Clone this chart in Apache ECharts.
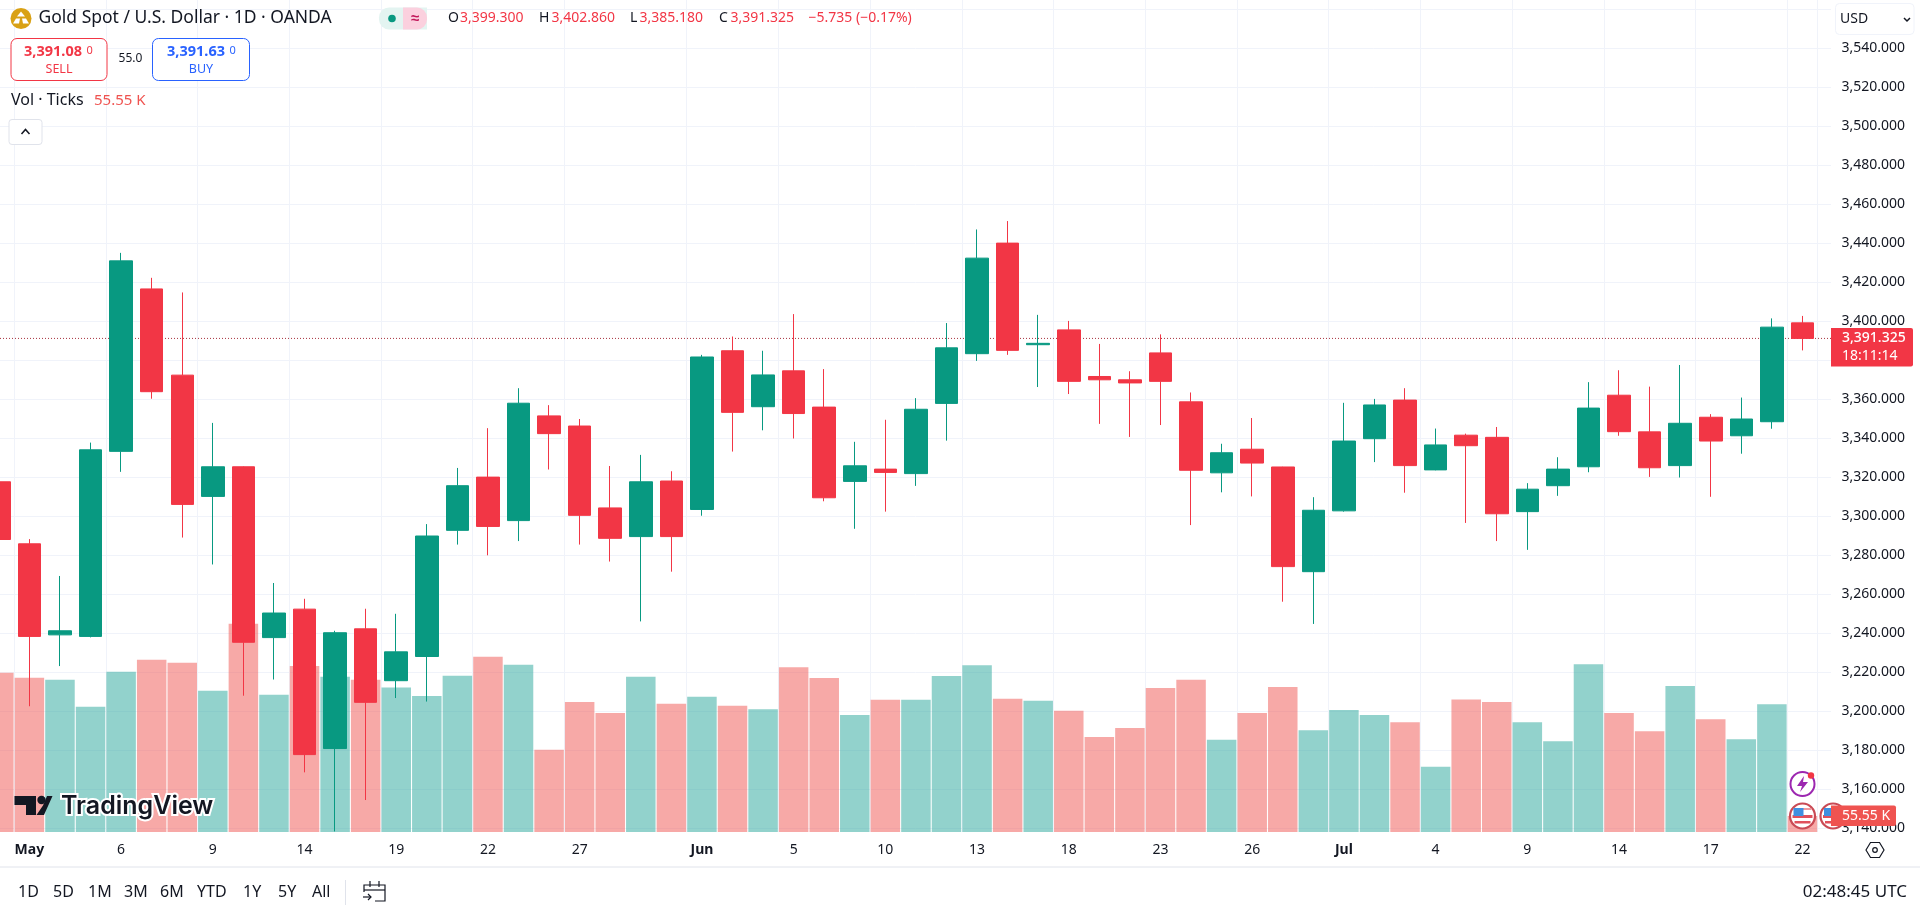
<!DOCTYPE html>
<html><head><meta charset="utf-8">
<style>html,body{margin:0;padding:0;background:#fff;width:100%;height:100%;overflow:hidden}#c{position:absolute;left:-17px;top:0;width:1937px;height:912px}</style>
<script src="https://cdn.jsdelivr.net/npm/echarts@6/dist/echarts.min.js"></script>
</head><body><div id="c"></div>
<script>
const categories=['04-30','05-01','05-02','05-05','05-06','05-07','05-08','05-09','05-12','05-13','05-14','05-15','05-16','05-19','05-20','05-21','05-22','05-23','05-26','05-27','05-28','05-29','05-30','06-02','06-03','06-04','06-05','06-06','06-09','06-10','06-11','06-12','06-13','06-16','06-17','06-18','06-19','06-20','06-23','06-24','06-25','06-26','06-27','06-30','07-01','07-02','07-03','07-04','07-07','07-08','07-09','07-10','07-11','07-14','07-15','07-16','07-17','07-18','07-21','07-22'];
const tickLabels=['','May','','','6','','','9','','','14','','','19','','','22','','','27','','','','Jun','','','5','','','10','','','13','','','18','','','23','','','26','','','Jul','','','4','','','9','','','14','','','17','','','22'];
const opens=[3317.8,3286,3239.3,3238.5,3333.4,3416.7,3372.5,3310.3,3325.5,3237.9,3252.5,3181,3242.4,3215.8,3228.2,3292.9,3320.2,3297.9,3351.6,3346.4,3304.4,3289.7,3318.2,3303.6,3385,3356.3,3374.7,3356.1,3318,3324.3,3322,3358,3383.5,3440.2,3388.1,3395.7,3371.8,3370.1,3383.9,3358.8,3322.4,3334.5,3325.4,3271.7,3302.9,3339.9,3359.7,3323.9,3341.7,3340.6,3302.5,3315.8,3325.5,3362.2,3343.4,3326.1,3350.9,3341.4,3348.6,3399.3];
const closes=[3288.2,3238.5,3241.4,3334.2,3431.1,3364,3306.2,3325.5,3235.5,3250.5,3177.9,3240.4,3204.7,3230.6,3290,3315.8,3294.9,3358.1,3342.5,3300.6,3288.8,3317.8,3289.7,3381.8,3353.4,3372.6,3352.8,3309.6,3326,3322.6,3355,3386.5,3432.5,3385.2,3388.8,3369.3,3370.1,3368.5,3369.3,3323.7,3332.7,3327.4,3274.3,3303.2,3338.7,3357.2,3326.1,3336.7,3336.3,3301.4,3314,3324.3,3355.6,3343.5,3325,3347.8,3338.7,3350,3397.1,3391.325];
const highs=[3320,3288.4,3269.5,3337.9,3435.2,3422.4,3414.9,3348,3325.7,3265.9,3257.8,3241.4,3252.7,3250.1,3296.1,3324.9,3345.3,3365.8,3357.1,3350,3325.9,3331.6,3323.2,3382.9,3392.3,3385,3403.8,3375.6,3338.3,3349.6,3360.7,3399.2,3447.2,3451.5,3403.4,3400.3,3388.5,3374.5,3393.4,3363.6,3337.3,3350.5,3325.5,3309.9,3358.3,3360.3,3365.8,3345.1,3342.5,3345.9,3317.1,3330.4,3368.9,3375,3366.6,3377.7,3352.5,3361,3401.6,3402.86];
const lows=[3285,3202.7,3223.3,3238,3322.9,3360.4,3289.2,3275.4,3208.1,3216.4,3168.8,3138.5,3154.6,3206.9,3205.1,3285.6,3280.1,3287.4,3324.1,3285.6,3276.9,3246.2,3271.7,3300.4,3333.3,3344.2,3340,3307.8,3293.7,3302.5,3315.7,3338.9,3379.8,3382.9,3366.4,3362.8,3347.5,3340.8,3346.9,3295.6,3312.4,3310.3,3256.3,3244.9,3302.5,3327.9,3312.2,3323.7,3296.7,3287.4,3282.9,3310.6,3322.7,3341.4,3320.3,3320,3310.1,3332.2,3345,3385.18];
const volumes=[553,535,528,435,556,598,587,490,723,476,576,539,528,501,472,542,608,580,285,451,413,539,445,469,438,426,572,534,406,459,459,541,579,462,455,421,330,361,500,528,320,413,503,353,423,406,381,226,460,451,381,315,582,413,350,507,391,322,443,55.55];
const lastPrice=3391.325;
const rangeLabels=['1D','5D','1M','3M','6M','YTD','1Y','5Y','All'];
const rangeX=[18,53,88,124,160,197,243,278,312];

const F='"Noto Sans",sans-serif', RED='#F23645', GREEN='#089981', INK='#131722';
const SHIFT=17; // the canvas starts left of the window so the first, partly hidden candle is cut by the window edge
const T=(x,y,text,o={})=>({type:'text',z:50,style:Object.assign({x,y,text,fill:INK,font:(o.w||'normal')+' '+(o.s||14)+'px '+F,textAlign:o.a||'left',textVerticalAlign:'middle',textBaseline:'middle'},o.fill?{fill:o.fill}:{},o.stroke?{stroke:o.stroke,lineWidth:o.lw||3}:{})});
const R=(x,y,w,h,o={})=>({type:'rect',z:o.z||40,shape:{x,y,width:w,height:h,r:o.r||0},style:{fill:o.fill||'none',stroke:o.stroke||null,lineWidth:o.lw||1}});
const C=(cx,cy,r,o={})=>({type:'circle',z:o.z||40,shape:{cx,cy,r},style:{fill:o.fill||'none',stroke:o.stroke||null,lineWidth:o.lw||1}});
const PL=(points,o={})=>({type:'polyline',z:o.z||41,shape:{points},style:{fill:'none',stroke:o.stroke||INK,lineWidth:o.lw||1.2}});
const PG=(points,o={})=>({type:'polygon',z:o.z||41,shape:{points},style:{fill:o.fill||INK,stroke:o.stroke||null,lineWidth:o.lw||1}});

const flag=(cx,cy)=>[
  C(cx,cy,12.5,{fill:'#fff',stroke:'#C94A55',lw:2.2,z:30}),
  R(cx-9,cy-8,18,2,{fill:'#EF9AA0',z:31}),
  R(cx-10,cy-1,20,3,{fill:'#E0505C',z:31}),
  R(cx-8,cy+5,16,2.5,{fill:'#E0505C',z:31}),
  R(cx-9,cy-8,10,8,{fill:'#3F8FE0',z:32})
];

const graphics=[
  // header
  C(21,18.5,10.5,{fill:'#D9A114'}),
  PG([[21,11.5],[25,16.5],[17,16.5]],{fill:'#fff'}),PG([[16,18.5],[20,18.5],[19,23.5],[13,23.5]],{fill:'#fff'}),PG([[22,18.5],[26,18.5],[29,23.5],[23,23.5]],{fill:'#fff'}),
  T(38.5,18.5,'Gold Spot / U.S. Dollar · 1D · OANDA',{s:17.5}),
  R(379,7.5,48,22,{fill:'#E3F4F1',r:[10,0,0,10]}),R(403,7.5,24,22,{fill:'#FBD0DE',r:[0,10,10,0]}),
  C(392,18.5,3.8,{fill:GREEN}),T(415,18.5,'≈',{s:15,a:'center',fill:'#C2185B',w:'bold'}),
  T(448,18.5,'O',{}),T(460,18.5,'3,399.300',{fill:RED}),
  T(539,18.5,'H',{}),T(551.5,18.5,'3,402.860',{fill:RED}),
  T(630,18.5,'L',{}),T(639.5,18.5,'3,385.180',{fill:RED}),
  T(719,18.5,'C',{}),T(730.5,18.5,'3,391.325',{fill:RED}),
  T(808.5,18.5,'−5.735 (−0.17%)',{fill:RED}),
  // sell / buy
  R(11,38.5,96,42,{stroke:RED,r:6,fill:'#fff'}),
  T(24,51.5,'3,391.08',{fill:RED,w:'bold',s:14.5}),T(86.5,50.5,'0',{fill:RED,s:11}),T(59,69,'SELL',{fill:RED,s:12.5,a:'center'}),
  T(130.5,59,'55.0',{s:12,a:'center'}),
  R(152.5,38.5,97,42,{stroke:'#2962FF',r:6,fill:'#fff'}),
  T(167,51.5,'3,391.63',{fill:'#2962FF',w:'bold',s:14.5}),T(229.5,50.5,'0',{fill:'#2962FF',s:11}),T(201,69,'BUY',{fill:'#2962FF',s:12.5,a:'center'}),
  T(11,100.5,'Vol · Ticks',{s:16}),T(94,100.5,'55.55 K',{fill:'#EF5350',s:15}),
  R(9,119.5,33,25,{stroke:'#E0E3EB',r:3,fill:'#fff'}),
  PL([[21.5,134],[25.5,129.5],[29.5,134]],{lw:1.5}),
  // currency box
  R(1835.5,3.5,78.5,31,{stroke:'#F0F3FA',r:4,fill:'#fff'}),T(1840,19.5,'USD',{s:14}),
  PL([[1904,18],[1907,21],[1910,18]],{lw:1.5}),
  // watermark
  PG([[14.5,796],[36,796],[36,815],[26,815],[26,805],[14.5,805]]),
  C(41.5,800,4.2,{fill:INK,z:41}),
  PG([[43,805.5],[47,796],[52.5,796],[44,815],[36.5,815]]),
  {type:'text',z:42,style:{x:61,y:806,text:'TradingView',fill:INK,font:'600 25px Inter,sans-serif',textBaseline:'middle',textVerticalAlign:'middle',stroke:'#fff',lineWidth:4}},
  // bottom toolbar
  {type:'line',z:40,shape:{x1:0,y1:867,x2:1920,y2:867},style:{stroke:'#E0E3EB',lineWidth:1}},
  {type:'line',z:40,shape:{x1:345.5,y1:880,x2:345.5,y2:905},style:{stroke:'#E0E3EB',lineWidth:1}},
  ...rangeLabels.map((s,i)=>T(rangeX[i],892,s,{s:16})),
  PL([[385,897],[385,885],[364,885],[364,892]]),PL([[364,890],[385,890]]),PL([[370,881],[370,887]]),PL([[379,881],[379,887]]),
  PL([[385,897],[385,901],[375,901]]),PL([[363,897],[371,897]]),PL([[368,894],[371,897],[368,900]]),
  T(1907,892,'02:48:45 UTC',{s:17,a:'right'}),
  // settings icon
  PG([[1866,850],[1870.5,842.5],[1879.5,842.5],[1884,850],[1879.5,857.5],[1870.5,857.5]],{fill:'#fff',stroke:INK,lw:1.2}),
  C(1875,850,2.3,{stroke:INK,lw:1.2,z:42}),
  // event icons
  C(1802.5,784,12,{fill:'#fff',stroke:'#9C27B0',lw:2,z:30}),
  PG([[1804,776],[1797,786],[1802,786],[1800,792],[1808,782],[1803,782]],{fill:'#9C27B0',z:31}),
  C(1811,775.5,3.2,{fill:RED,z:32}),
  ...flag(1802.5,816),...flag(1833,816),
  // price tags
  R(1831,328,82,38.5,{fill:RED,r:[0,2,2,0],z:45}),
  T(1842,338.5,'3,391.325',{fill:'#fff',s:14,w:'500'}),T(1842,356,'18:11:14',{fill:'#fff',s:14}),
  R(1831,805.5,65,20.5,{fill:'#EF5350',r:[0,2,2,0],z:45}),
  T(1842,816,'55.55 K',{fill:'#fff',s:14})
];

// price scale: 1.95 px per USD, 3400 at y = 321.5
const yMaxAll=3400+321.5/1.95, yMinAll=3400-(832-321.5)/1.95;
const volMax=2887;

const option={
  animation:false,
  backgroundColor:'#fff',
  textStyle:{fontFamily:F},
  grid:[
    {left:SHIFT,top:9.5,width:1831,height:819},
    {left:SHIFT-16.455,top:0,width:1834.2,height:832}
  ],
  xAxis:[
    {type:'value',gridIndex:0,min:0,max:1,show:false,splitLine:{show:false}},
    {type:'category',gridIndex:1,data:categories,
      axisLine:{show:false},axisTick:{show:false},
      axisLabel:{interval:(i)=>tickLabels[i]!=='',margin:11,fontSize:14,color:INK,fontFamily:F,
        formatter:(v,i)=>/[A-Za-z]/.test(tickLabels[i])?'{b|'+tickLabels[i]+'}':tickLabels[i],
        rich:{b:{fontWeight:'bold',fontSize:14,color:INK,fontFamily:F}}},
      splitLine:{show:true,interval:(i)=>tickLabels[i]!=='',lineStyle:{color:'#F0F3FA',width:1}}}
  ],
  yAxis:[
    {type:'value',gridIndex:0,position:'right',min:3140,max:3560,interval:20,
      axisLine:{show:false},axisTick:{show:false},
      axisLabel:{margin:10.5,fontSize:14,color:INK,fontFamily:F,
        formatter:(v)=>v>=3560?'':v.toLocaleString('en-US',{minimumFractionDigits:3,maximumFractionDigits:3})},
      splitLine:{show:true,lineStyle:{color:'#F0F3FA',width:1}}},
    {type:'value',gridIndex:1,min:yMinAll,max:yMaxAll,show:false,splitLine:{show:false}},
    {type:'value',gridIndex:1,min:0,max:volMax,show:false,splitLine:{show:false}}
  ],
  series:[
    {type:'line',xAxisIndex:0,yAxisIndex:0,data:[[0,lastPrice],[1,lastPrice]],showSymbol:false,symbol:'none',z:1,silent:true,
      lineStyle:{color:'#A8323E',width:1,type:[1,2]}},
    {type:'bar',name:'Vol',xAxisIndex:1,yAxisIndex:2,z:2,barWidth:29.5,data:volumes,
      itemStyle:{color:(p)=>closes[p.dataIndex]>=opens[p.dataIndex]?'rgba(38,166,154,0.5)':'rgba(239,83,80,0.5)'}},
    {type:'candlestick',name:'XAUUSD',xAxisIndex:1,yAxisIndex:1,z:3,barWidth:23,
      data:opens.map((o,i)=>[o,closes[i],lows[i],highs[i]]),
      itemStyle:{color:GREEN,color0:RED,borderColor:GREEN,borderColor0:RED,borderWidth:1}}
  ],
  graphic:{elements:[{type:'group',x:SHIFT,y:0,children:graphics}]}
};
const chart=echarts.init(document.getElementById('c'),null,{renderer:'canvas',width:1937,height:912});
chart.setOption(option);
</script></body></html>
